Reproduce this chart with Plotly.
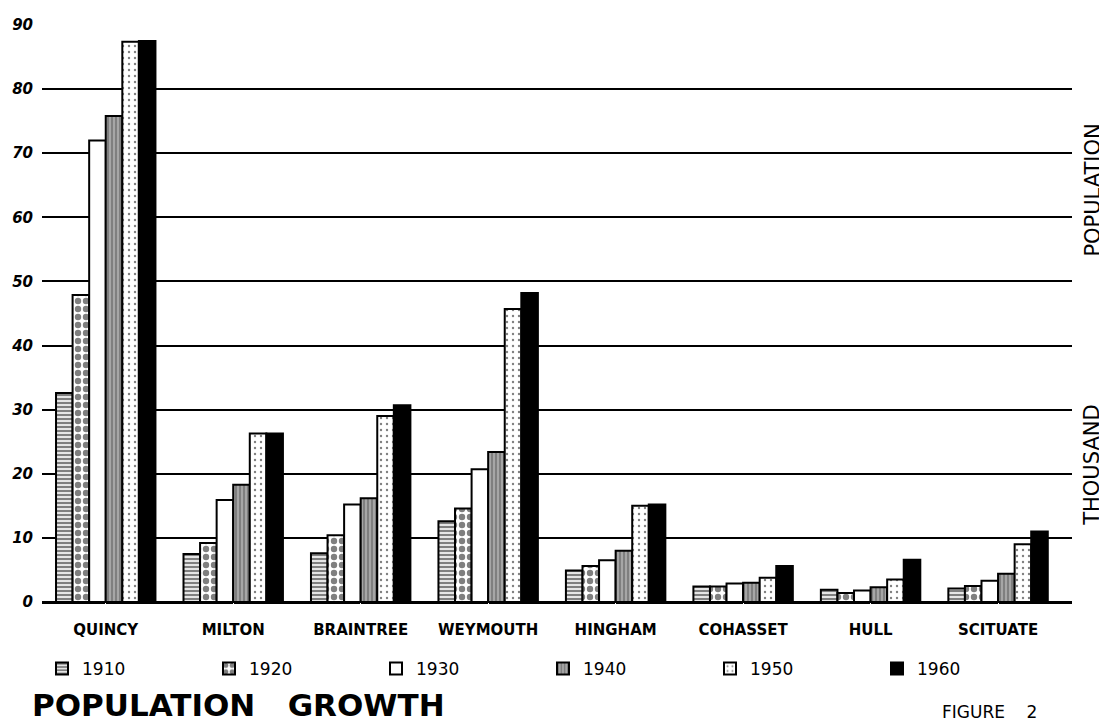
import plotly.graph_objects as go

towns = ["QUINCY", "MILTON", "BRAINTREE", "WEYMOUTH", "HINGHAM", "COHASSET", "HULL", "SCITUATE"]
years = ["1910", "1920", "1930", "1940", "1950", "1960"]

# population in thousands
pop_1910 = [32.6, 7.5, 7.6, 12.6, 4.9, 2.4, 1.9, 2.1]
pop_1920 = [47.9, 9.2, 10.4, 14.6, 5.6, 2.4, 1.4, 2.5]
pop_1930 = [72.0, 15.9, 15.2, 20.7, 6.5, 2.9, 1.8, 3.3]
pop_1940 = [75.8, 18.3, 16.2, 23.4, 8.0, 3.0, 2.3, 4.4]
pop_1950 = [87.4, 26.3, 29.0, 45.7, 15.0, 3.8, 3.5, 9.0]
pop_1960 = [87.5, 26.3, 30.7, 48.2, 15.2, 5.6, 6.6, 11.0]

series = [pop_1910, pop_1920, pop_1930, pop_1940, pop_1950, pop_1960]

patterns = [
    dict(shape="-", fgcolor="black", bgcolor="white", size=4, solidity=0.6),
    dict(shape=".", fgcolor="black", bgcolor="white", size=8, solidity=0.5),
    dict(shape="", bgcolor="white"),
    dict(shape="|", fgcolor="black", bgcolor="white", size=4, solidity=0.85),
    dict(shape=".", fgcolor="black", bgcolor="white", size=6, solidity=0.12),
    dict(shape="", bgcolor="black"),
]
fills = ["white", "white", "white", "white", "white", "black"]

fig = go.Figure()
for yr, vals, pat, fc in zip(years, series, patterns, fills):
    fig.add_trace(go.Bar(
        name=yr, x=towns, y=vals,
        marker=dict(color=fc, pattern=pat, line=dict(color="black", width=2)),
        hoverinfo="skip",
    ))

fig.update_layout(
    width=1099, height=720,
    margin=dict(l=34, r=35, t=17, b=126, autoexpand=False),
    paper_bgcolor="white", plot_bgcolor="white",
    barmode="group", bargap=0.22, bargroupgap=0,
    font=dict(family="DejaVu Sans", color="black"),
    showlegend=True,
    legend=dict(
        orientation="h", x=0.0, xanchor="left", y=-0.085, yanchor="top",
        entrywidth=122, entrywidthmode="pixels",
        font=dict(family="DejaVu Sans", size=17, color="black"),
        itemsizing="constant", traceorder="normal",
    ),
)
fig.update_xaxes(
    range=[-0.5, 7.58], showgrid=False, zeroline=False, showline=False,
    automargin=False,
    ticks="outside", ticklen=14, tickcolor="white",
    tickfont=dict(family="DejaVu Sans", size=15, color="black", weight="bold"),
)
fig.update_yaxes(
    range=[0, 90], dtick=10, showgrid=True, gridcolor="black", gridwidth=1.5,
    zeroline=True, zerolinecolor="black", zerolinewidth=2.5, showline=False,
    automargin=False,
    ticks="outside", ticklen=5, tickcolor="white",
    tickfont=dict(family="DejaVu Sans", size=15, color="black", weight="bold", style="italic"),
)

fig.add_annotation(
    text="POPULATION&nbsp;&nbsp;&nbsp;GROWTH", xref="paper", yref="paper",
    x=-0.012, y=-0.178, xanchor="left", yanchor="middle", showarrow=False,
    font=dict(family="DejaVu Sans", size=31, color="black", weight="bold"),
)
fig.add_annotation(
    text="FIGURE&nbsp;&nbsp;&nbsp;&nbsp;2", xref="paper", yref="paper",
    x=0.92, y=-0.19, xanchor="center", yanchor="middle", showarrow=False,
    font=dict(family="DejaVu Sans", size=17, color="black"),
)
fig.add_annotation(
    text="POPULATION", xref="paper", yref="paper",
    x=1.02, y=0.714, xanchor="center", yanchor="middle", showarrow=False,
    textangle=-90, font=dict(family="DejaVu Sans", size=21, color="black"),
)
fig.add_annotation(
    text="THOUSAND", xref="paper", yref="paper",
    x=1.02, y=0.237, xanchor="center", yanchor="middle", showarrow=False,
    textangle=-90, font=dict(family="DejaVu Sans", size=21, color="black"),
)

fig.write_html("out.html")
